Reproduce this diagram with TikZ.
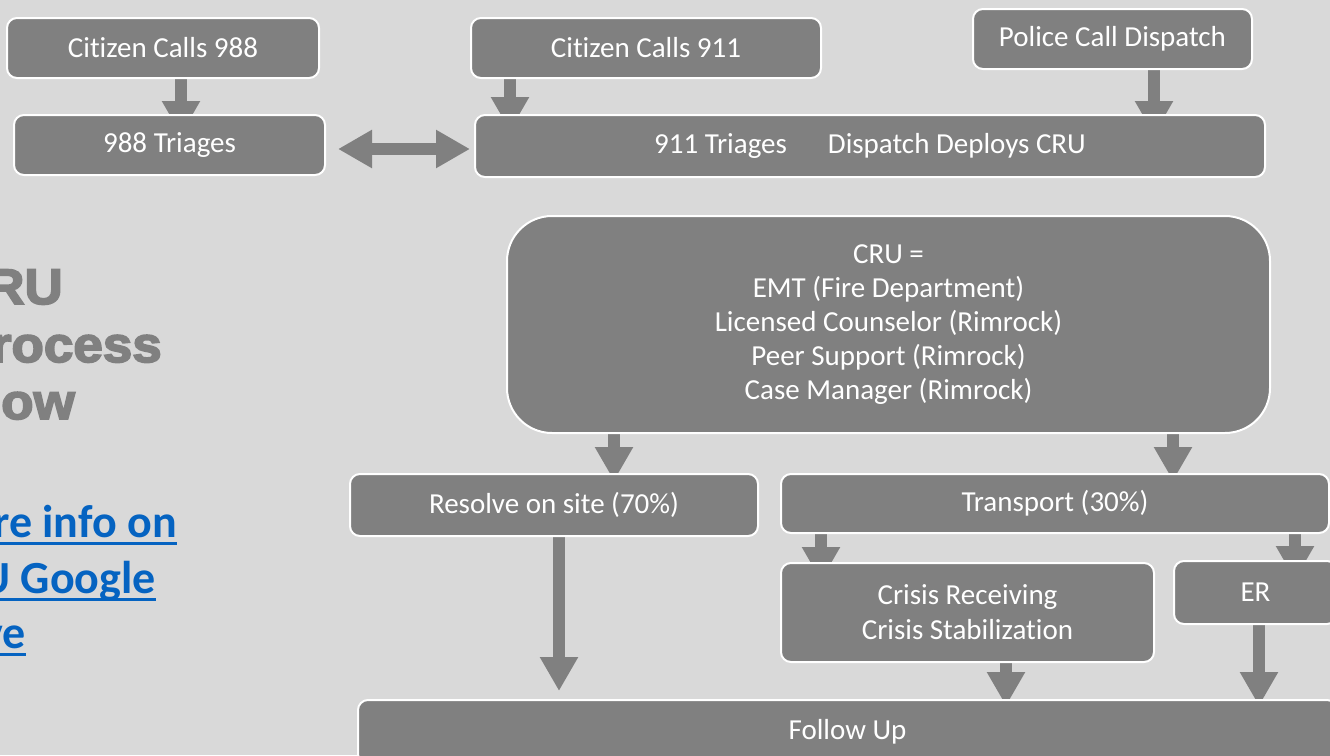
\documentclass[tikz,border=0pt]{standalone}
\usepackage{fontspec}
\setmainfont[Ligatures=CommonOff]{Carlito}
\newfontfamily\titlefont[BoldFont={Liberation Sans Bold},BoldFeatures={FakeBold=3.5,FakeStretch=1.06}]{Liberation Sans}
\usetikzlibrary{arrows.meta}
\definecolor{bggray}{HTML}{D9D9D9}
\definecolor{boxgray}{HTML}{808080}
\definecolor{linkblue}{HTML}{0563C1}
\pgfdeclarelayer{bglayer}
\pgfdeclarelayer{arrowlayer}
\pgfsetlayers{bglayer,arrowlayer,main}
\begin{document}
\begin{tikzpicture}[x=1pt,y=-1pt,
  box/.style={draw=white, line width=2pt, fill=boxgray, rounded corners=10pt, text=white,
    font=\fontsize{29}{34}\selectfont, inner sep=0pt, align=center, anchor=north west},
  conn/.style={draw=boxgray, line width=12pt, -{Triangle[width=36pt,length=34pt]}},
  dconn/.style={draw=boxgray, line width=12pt, {Triangle[width=36pt,length=34pt]}-{Triangle[width=36pt,length=34pt]}},
  titletext/.style={font=\titlefont\bfseries\fontsize{50}{57}\selectfont, text=boxgray, inner sep=0pt, anchor=base east},
  linktext/.style={font=\bfseries\fontsize{46}{56}\selectfont, text=linkblue, inner sep=0pt, anchor=base east},
  uline/.style={draw=linkblue, line width=3pt}]
\useasboundingbox (0,0) rectangle (1330,755);
\clip (0,0) rectangle (1330,755);
\begin{pgfonlayer}{bglayer}
\fill[bggray] (0,0) rectangle (1330,755);
\end{pgfonlayer}

% boxes
\node[box, minimum width=312pt, minimum height=60pt] (c988) at (6,17) {Citizen Calls 988};
\node[box, minimum width=311pt, minimum height=60pt] (t988) at (13,114) {988 Triages};
\node[box, minimum width=350pt, minimum height=60pt] (c911) at (470,17) {Citizen Calls 911};
\node[box, minimum width=279pt, minimum height=60pt] (pol) at (972,8) {Police Call Dispatch};
\node[box, minimum width=790pt, minimum height=62pt] (t911) at (474,114) {911 Triages\hspace{41pt}Dispatch Deploys CRU};
\node[box, rounded corners=45pt, minimum width=763pt, minimum height=217pt] (cru) at (506,215)
  {CRU =\\EMT (Fire Department)\\Licensed Counselor (Rimrock)\\Peer Support (Rimrock)\\Case Manager (Rimrock)};
\node[box, minimum width=408pt, minimum height=62pt] (res) at (349,473) {Resolve on site (70\%)};
\node[box, minimum width=548pt, minimum height=59pt] (trans) at (780,473) {Transport (30\%)};
\node[box, font=\fontsize{29}{35}\selectfont, minimum width=373pt, minimum height=99pt] (crisis) at (780,562) {Crisis Receiving\\Crisis Stabilization};
\node[box, minimum width=163pt, minimum height=63pt] (er) at (1173,560) {ER};
\node[box, minimum width=979pt, minimum height=64pt] (fol) at (357,699) {Follow Up};

% title and link
\node[titletext] (tt1) at (63,304) {CRU};
\node[titletext] (tt2) at (162,362) {Process};
\node[titletext] (tt3) at (75,419) {Flow};
\node[linktext] (l1) at (177,537) {More info on};
\node[linktext] (l2) at (156,593) {CRU Google};
\node[linktext] (l3) at (26,648) {Drive};
\draw[uline] ([yshift=-6pt]l1.base west) -- ([yshift=-6pt]l1.base east);
\draw[uline] ([yshift=-6pt]l2.base west) -- ([yshift=-6pt]l2.base east);
\draw[uline] ([yshift=-6pt]l3.base west) -- ([yshift=-6pt]l3.base east);

% connectors
\begin{pgfonlayer}{arrowlayer}
\draw[conn, shorten >=-21pt] (c988.south -| 181,0) -- (t988.north -| 181,0);
\draw[conn, shorten >=-17pt] (c911.south -| 510,0) -- (t911.north -| 510,0);
\draw[conn, shorten >=-21pt] (pol.south -| 1154,0) -- (t911.north -| 1154,0);
\draw[dconn, shorten <=12pt, shorten >=4pt] (t988.east |- 0,149) -- (t911.west |- 0,149);
\draw[conn, shorten >=-8pt] (cru.south -| 614,0) -- (res.north -| 614,0);
\draw[conn, shorten >=-8pt] (cru.south -| 1173,0) -- (trans.north -| 1173,0);
\draw[conn, shorten >=-19pt] (trans.south -| 821,0) -- (crisis.north -| 821,0);
\draw[conn, shorten >=-20pt] (trans.south -| 1295,0) -- (er.north -| 1295,0);
\draw[conn, shorten >=8pt] (res.south -| 559,0) -- (fol.north -| 559,0);
\draw[conn, shorten >=-7pt] (crisis.south -| 1006,0) -- (fol.north -| 1006,0);
\draw[conn, shorten >=-7pt] (er.south -| 1259,0) -- (fol.north -| 1259,0);
\end{pgfonlayer}
\end{tikzpicture}
\end{document}
